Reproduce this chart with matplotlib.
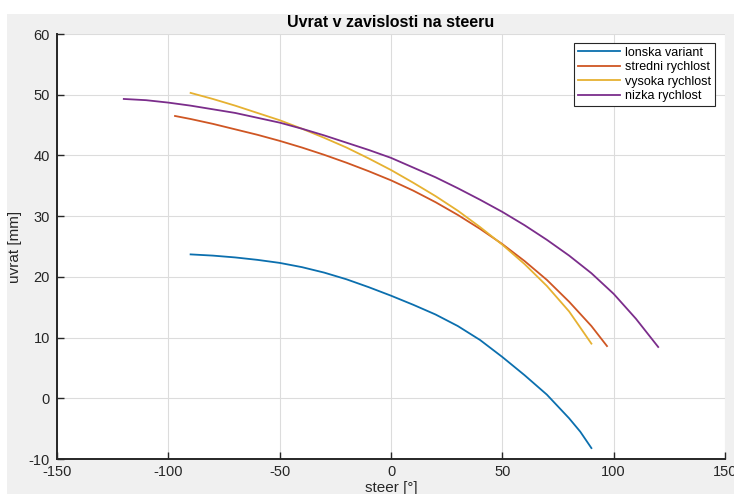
import matplotlib
matplotlib.use('Agg')
import matplotlib.pyplot as plt
from matplotlib.patches import Rectangle

# hodnoty
lonska_x = [-90, -80, -70, -60, -50, -40, -30, -20, -10, 0, 10, 20, 30, 40, 50, 60, 70, 80, 85, 90]
lonska_y = [23.7, 23.5, 23.2, 22.8, 22.3, 21.6, 20.7, 19.6, 18.3, 16.9, 15.4, 13.8, 11.9, 9.6, 6.8,
            3.8, 0.6, -3.3, -5.5, -8.2]

stredni_x = [-97, -90, -80, -70, -60, -50, -40, -30, -20, -10, 0, 10, 20, 30, 40, 50, 60, 70, 80, 90, 97]
stredni_y = [46.5, 46.0, 45.2, 44.3, 43.4, 42.4, 41.3, 40.1, 38.8, 37.4, 35.9, 34.2, 32.3, 30.2, 27.9,
             25.4, 22.6, 19.5, 15.9, 11.9, 8.6]

vysoka_x = [-90, -80, -70, -60, -50, -40, -30, -20, -10, 0, 10, 20, 30, 40, 50, 60, 70, 80, 90]
vysoka_y = [50.3, 49.3, 48.2, 47.0, 45.8, 44.4, 42.9, 41.3, 39.5, 37.6, 35.5, 33.3, 30.9, 28.2, 25.3,
            22.1, 18.5, 14.3, 9.0]

nizka_x = [-120, -110, -100, -90, -80, -70, -60, -50, -40, -30, -20, -10, 0, 10, 20, 30, 40, 50, 60,
           70, 80, 90, 100, 110, 120]
nizka_y = [49.3, 49.1, 48.7, 48.2, 47.6, 47.0, 46.2, 45.4, 44.4, 43.3, 42.1, 40.9, 39.6, 38.0, 36.4,
           34.6, 32.7, 30.7, 28.5, 26.1, 23.5, 20.6, 17.2, 13.1, 8.45]

labels = ['lonska variant', 'stredni rychlost', 'vysoka rychlost', 'nizka rychlost']
colors = ['#0b6fae', '#cf5623', '#e6b131', '#7b2d8b']
xticks = [-150, -100, -50, 0, 50, 100, 150]
yticks = [-10, 0, 10, 20, 30, 40, 50, 60]

plt.rcParams['font.family'] = ['Liberation Sans', 'DejaVu Sans']
plt.rcParams['axes.unicode_minus'] = False

W, H = 734, 494
fig = plt.figure(figsize=(W / 100, H / 100), dpi=100)
fig.patch.set_facecolor('white')
# sede pozadi okna (screenshot)
fig.patches.append(Rectangle((7 / W, 0), 1, (H - 14) / H, transform=fig.transFigure,
                             facecolor='#f0f0f0', edgecolor='none', zorder=-5))

ax = fig.add_axes([57 / W, (H - 459) / H, 668 / W, 425 / H])
ax.set_facecolor('white')

series = [(lonska_x, lonska_y), (stredni_x, stredni_y), (vysoka_x, vysoka_y), (nizka_x, nizka_y)]
for (xs, ys), lab, c in zip(series, labels, colors):
    ax.plot(xs, ys, color=c, linewidth=1.3, label=lab)

ax.set_xlim(-150, 150)
ax.set_ylim(-10, 60)
ax.set_xticks(xticks)
ax.set_yticks(yticks)
ax.grid(True, color='#dcdcdc', linewidth=0.8)
ax.set_axisbelow(True)

for s in ['top', 'right']:
    ax.spines[s].set_visible(False)
for s in ['left', 'bottom']:
    ax.spines[s].set_color('#262626')
    ax.spines[s].set_linewidth(1.4)
ax.tick_params(direction='in', length=5, width=1, colors='#262626', labelsize=10.5)
ax.tick_params(axis='y', pad=5)
ax.tick_params(axis='x', pad=4)

ax.set_title('Uvrat v zavislosti na steeru', fontsize=11.5, fontweight='bold', color='black', pad=5)
ax.set_xlabel('steer [°]', fontsize=11, color='#262626', labelpad=2)
ax.set_ylabel('uvrat [mm]', fontsize=11, color='#262626', labelpad=5)

leg = ax.legend(loc='upper right', bbox_to_anchor=(0.985, 0.979), fontsize=9,
                frameon=True, fancybox=False, edgecolor='#262626', framealpha=1,
                handlelength=3.4, labelspacing=0.2, borderpad=0.3, handletextpad=0.4,
                borderaxespad=0)
leg.get_frame().set_linewidth(0.8)

plt.savefig('out.png', dpi=100)
plt.close()
